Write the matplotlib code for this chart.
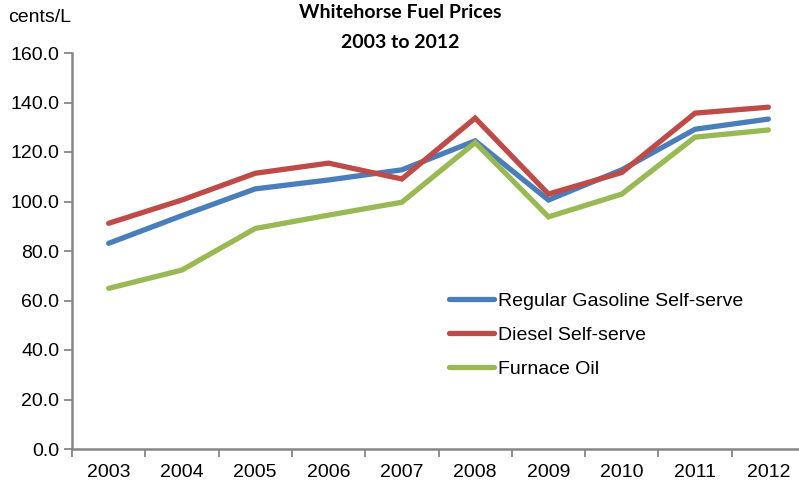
import numpy as np
from matplotlib import pyplot as plt

years = ["2003", "2004", "2005", "2006", "2007", "2008", "2009", "2010", "2011", "2012"]
regular = [83.1, 94.3, 105.1, 108.7, 112.8, 124.5, 100.6, 112.8, 129.2, 133.3]
diesel = [91.2, 100.6, 111.4, 115.5, 109.1, 133.7, 103.0, 111.7, 135.7, 138.1]
furnace = [64.9, 72.3, 89.1, 94.5, 99.7, 123.8, 93.8, 103.0, 126.0, 128.9]
labels = ["Regular Gasoline Self-serve", "Diesel Self-serve", "Furnace Oil"]
colors = ["#4A7EBB", "#BE4B48", "#98B954"]

plt.rcParams['font.family'] = ['Liberation Sans', 'DejaVu Sans']

W, H = 799, 482
fig = plt.figure(figsize=(W / 100, H / 100), dpi=100)
ax = fig.add_axes([72 / W, 33 / H, 733 / W, 396 / H])

x = np.arange(len(years))
for vals, lab, c in zip([regular, diesel, furnace], labels, colors):
    ax.plot(x, vals, color=c, lw=3.8, label=lab, solid_capstyle='round',
            solid_joinstyle='miter')

ax.set_xlim(-0.5, len(years) - 0.5)
ax.set_ylim(0, 160)
ax.set_yticks(np.arange(0, 161, 20))
ax.set_yticklabels([f"{v:.1f}" for v in np.arange(0, 161, 20)])
ax.set_xticks(x)
ax.set_xticklabels(years)
ax.set_xticks(np.arange(-0.5, len(years), 1), minor=True)
ax.tick_params(axis='x', which='major', length=0, pad=11, labelsize=14)
ax.tick_params(axis='x', which='minor', length=6, width=1.3, color='#868686', direction='out')
ax.tick_params(axis='y', length=6, width=1.3, color='#868686', direction='out', pad=3, labelsize=14)

for s in ['top', 'right']:
    ax.spines[s].set_visible(False)
for s in ['left', 'bottom']:
    ax.spines[s].set_color('#868686')
    ax.spines[s].set_linewidth(1.8)

fig.text(8 / W, 1 - 17 / H, "cents/L", fontsize=14, va='center', ha='left')
fig.text(400 / W, 1 - 13 / H, "Whitehorse Fuel Prices", fontsize=14, fontweight='bold',
         ha='center', va='center', family=['Lato', 'DejaVu Sans'])
fig.text(400 / W, 1 - 43 / H, "2003 to 2012", fontsize=14, fontweight='bold',
         ha='center', va='center', family=['Lato', 'DejaVu Sans'])

ax.legend(loc='upper left', bbox_to_anchor=(449 / W, 1 - 292 / H), bbox_transform=fig.transFigure,
          frameon=False, fontsize=14, handlelength=2.3, handletextpad=0.2, labelspacing=0.85,
          borderaxespad=0, borderpad=0)

plt.savefig("out.png", dpi=100)
